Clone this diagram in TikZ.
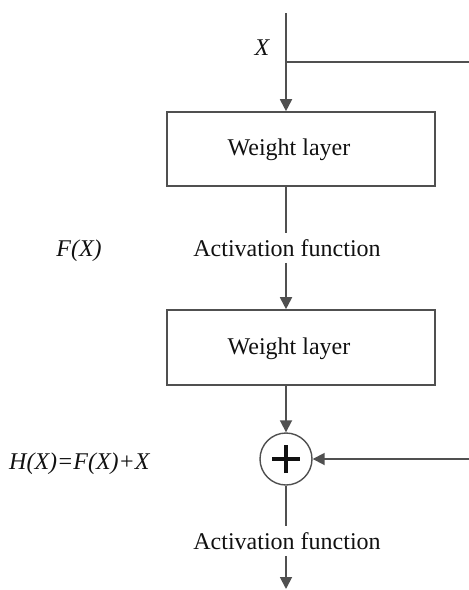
\documentclass[tikz,border=0pt]{standalone}
\usepackage{fontspec}
\setmainfont{Liberation Serif}
\usetikzlibrary{arrows.meta}
\definecolor{ln}{HTML}{505050}
\definecolor{tx}{HTML}{111111}
\begin{document}
\begin{tikzpicture}[x=1pt,y=-1pt,
  wire/.style={draw=ln,line width=1.8pt},
  arr/.style={wire,-{Triangle[length=12pt,width=12pt]}},
  wbox/.style={draw=ln,line width=1.6pt,minimum width=268pt,inner sep=0pt},
  lbl/.style={inner sep=0pt,font=\fontsize{24}{28}\selectfont,text=tx},
  ilbl/.style={inner sep=0pt,font=\fontsize{24}{28}\selectfont\itshape,text=tx},
  sumc/.style={circle,draw=ln,line width=1.4pt,minimum size=52pt,inner sep=0pt}]
\useasboundingbox (0,0) rectangle (469,590);
\coordinate (top) at (286,13);
\coordinate (br) at (286,62);
\coordinate (re1) at (469.5,62);
\coordinate (re2) at (469.5,459);
\coordinate (bot) at (286,589);
\node[wbox,minimum height=74pt] (w1) at (301,149) {};
\node[lbl] (t1) at (289,150) {Weight layer};
\node[lbl,inner ysep=6pt] (a1) at (287,248) {Activation function};
\node[wbox,minimum height=75pt] (w2) at (301,347.5) {};
\node[lbl] (t2) at (289,349) {Weight layer};
\node[sumc] (s) at (286,459) {};
\node[lbl,inner ysep=6pt] (a2) at (287,541) {Activation function};
\node[ilbl] (x) at (262,48) {X};
\node[ilbl] (fx) at (79,251) {F(X)};
\node[ilbl,anchor=west] (hx) at (9,464) {H(X)=F(X)+X};
\draw[wire] (br) -- (re1);
\draw[arr] (top) -- (top |- w1.north);
\draw[wire] (w1.south -| s) -- (s |- a1.north);
\draw[arr] (s |- a1.south) -- (s |- w2.north);
\draw[arr] (w2.south -| s) -- (s.north);
\draw[arr] (re2) -- (s.east);
\draw[wire] (s.south) -- (s |- a2.north);
\draw[arr] (s |- a2.south) -- (bot);
\draw[line width=4.5pt,tx] ([xshift=-14pt]s.center) -- ([xshift=14pt]s.center);
\draw[line width=4.5pt,tx] ([yshift=-14pt]s.center) -- ([yshift=14pt]s.center);
\end{tikzpicture}
\end{document}
